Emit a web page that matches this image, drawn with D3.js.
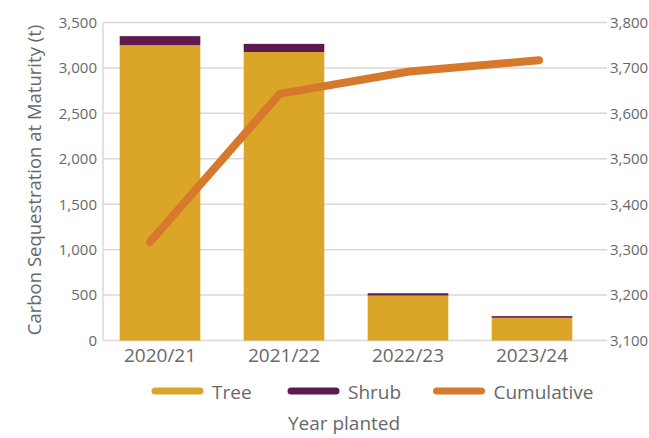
<!DOCTYPE html>
<html>
<head>
<meta charset="utf-8">
<script src="https://cdn.jsdelivr.net/npm/d3@7"></script>
<style>
  html, body { margin: 0; padding: 0; background: #fff; }
  svg { display: block; font-family: 'Open Sans', sans-serif; }
</style>
</head>
<body>
<script>
// values
const years = ['2020/21', '2021/22', '2022/23', '2023/24']
const tree = [3250, 3175, 495, 250]
const shrub = [100, 90, 25, 18]
const cumulative = [3317, 3643, 3692, 3717]
const leftTicks = [0, 500, 1000, 1500, 2000, 2500, 3000, 3500]
const rightTicks = [3100, 3200, 3300, 3400, 3500, 3600, 3700, 3800]

const W = 649
const H = 438
const plot = { left: 103, right: 607, top: 22.5, bottom: 340.5 }
const textColor = '#686868'
const gridColor = '#ddd8d3'
const colors = { tree: '#dba628', shrub: '#5c1a4e', cumulative: '#d7792d' }

const svg = d3.select('body').append('svg')
  .attr('width', W)
  .attr('height', H)

const x = d3.scaleBand().domain(years).range([98, 594])
  .paddingInner(0.35).paddingOuter(0.175)
const xLine = d3.scalePoint().domain(years).range([150, 539])
const y = d3.scaleLinear().domain([0, 3500]).range([plot.bottom, plot.top])
const y2 = d3.scaleLinear().domain([3100, 3800]).range([plot.bottom, plot.top])

// grid
svg.append('g')
  .selectAll('line')
  .data(leftTicks).enter()
  .append('line')
  .attr('x1', plot.left)
  .attr('x2', plot.right)
  .attr('y1', d => y(d))
  .attr('y2', d => y(d))
  .attr('stroke', gridColor)
  .attr('stroke-width', 1.5)

svg.append('line')
  .attr('x1', plot.left).attr('x2', plot.left)
  .attr('y1', plot.top).attr('y2', plot.bottom)
  .attr('stroke', gridColor)
  .attr('stroke-width', 1.5)

// stacked bars
const rows = years.map((yr, i) => ({ year: yr, tree: tree[i], shrub: shrub[i] }))
const stack = d3.stack().keys(['tree', 'shrub'])(rows)

svg.append('g')
  .selectAll('g')
  .data(stack).enter()
  .append('g')
  .attr('fill', d => colors[d.key])
  .selectAll('rect')
  .data(d => d).enter()
  .append('rect')
  .attr('x', d => x(d.data.year))
  .attr('width', x.bandwidth())
  .attr('y', d => y(d[1]))
  .attr('height', d => y(d[0]) - y(d[1]))

// cumulative line
const line = d3.line()
  .x((d, i) => xLine(years[i]))
  .y(d => y2(d))

svg.append('path')
  .datum(cumulative)
  .attr('fill', 'none')
  .attr('stroke', colors.cumulative)
  .attr('stroke-width', 8)
  .attr('stroke-linecap', 'round')
  .attr('stroke-linejoin', 'round')
  .attr('d', line)

// axes
const yAxis = g => g
  .attr('transform', `translate(${plot.left},0)`)
  .call(d3.axisLeft(y).tickValues(leftTicks).tickFormat(d3.format(',')).tickSize(0).tickPadding(6))
  .call(g => g.select('.domain').remove())
  .call(g => g.selectAll('.tick text')
    .attr('fill', textColor)
    .attr('font-size', 15))

const y2Axis = g => g
  .attr('transform', `translate(${plot.right},0)`)
  .call(d3.axisRight(y2).tickValues(rightTicks).tickFormat(d3.format(',')).tickSize(0).tickPadding(3))
  .call(g => g.select('.domain').remove())
  .call(g => g.selectAll('.tick text')
    .attr('fill', textColor)
    .attr('font-size', 15))

const xAxis = g => g
  .attr('transform', `translate(0,${plot.bottom})`)
  .call(d3.axisBottom(x).tickSize(0).tickPadding(8))
  .call(g => g.select('.domain').remove())
  .call(g => g.selectAll('.tick text')
    .attr('fill', textColor)
    .attr('font-size', 19))

svg.append('g').call(yAxis)
svg.append('g').call(y2Axis)
svg.append('g').call(xAxis)

svg.selectAll('.tick text').attr('font-family', "'Open Sans', sans-serif")

// axis titles
svg.append('text')
  .text('Carbon Sequestration at Maturity (t)')
  .attr('transform', 'translate(41,180) rotate(-90)')
  .attr('text-anchor', 'middle')
  .attr('fill', textColor)
  .attr('font-size', 18.5)

svg.append('text')
  .text('Year planted')
  .attr('x', 344)
  .attr('y', 430)
  .attr('text-anchor', 'middle')
  .attr('fill', textColor)
  .attr('font-size', 19)

// legend
const legendItems = [
  { name: 'Tree', color: colors.tree, x: 155 },
  { name: 'Shrub', color: colors.shrub, x: 291 },
  { name: 'Cumulative', color: colors.cumulative, x: 436.5 }
]

const legend = svg.append('g')
  .attr('transform', 'translate(0,391)')
  .selectAll('g')
  .data(legendItems).enter()
  .append('g')
  .attr('transform', d => `translate(${d.x},0)`)

legend.append('path')
  .attr('d', 'M0,0l45,0')
  .attr('stroke', d => d.color)
  .attr('stroke-width', 7)
  .attr('stroke-linecap', 'round')

legend.append('text')
  .text(d => d.name)
  .attr('x', 57)
  .attr('y', 7.5)
  .attr('fill', textColor)
  .attr('font-size', 19)
</script>
</body>
</html>
